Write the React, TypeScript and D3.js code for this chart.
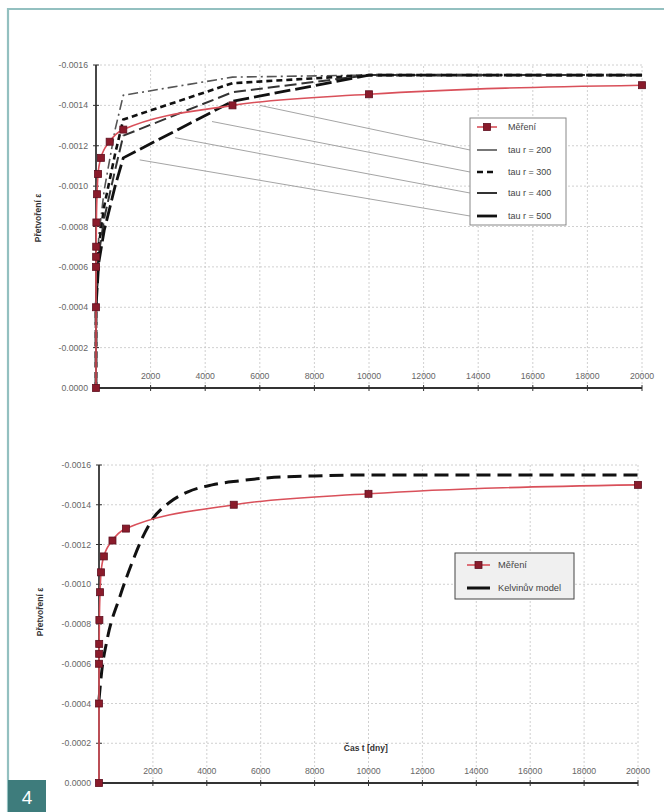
import React from 'react'
import * as d3 from 'd3'

// tick values of both charts
const xTicks = [2000, 4000, 6000, 8000, 10000, 12000, 14000, 16000, 18000, 20000]
const yTicks = [0, -0.0002, -0.0004, -0.0006, -0.0008, -0.001, -0.0012, -0.0014, -0.0016]

// Měření (measured strain), time in days
const measTimes = [0, 1, 3, 5, 7, 14, 40, 75, 180, 500, 1000, 5000, 10000, 20000]
const measStrain = [0, -0.0004, -0.0006, -0.00065, -0.0007, -0.00082, -0.00096, -0.00106, -0.00114, -0.00122, -0.00128, -0.0014, -0.001455, -0.0015]

// model curves for the top chart
const modelTimes = [0, 1, 100, 300, 700, 1000, 5000, 10000, 20000]
const tau200 = [0, -0.0004, -0.00075, -0.00098, -0.00128, -0.00145, -0.00154, -0.00155, -0.00155]
const tau300 = [0, -0.0004, -0.0007, -0.0009, -0.00116, -0.00133, -0.00151, -0.00155, -0.00155]
const tau400 = [0, -0.0004, -0.00066, -0.00084, -0.00108, -0.00125, -0.001465, -0.00155, -0.00155]
const tau500 = [0, -0.0004, -0.00062, -0.00078, -0.001, -0.00114, -0.00142, -0.00155, -0.00155]

// Kelvin model for the bottom chart
const kelvinTimes = [0, 100, 300, 780, 1260, 1630, 2000, 2600, 3300, 4200, 5200, 6500, 8000, 10000, 20000]
const kelvinStrain = [-0.00042, -0.00056, -0.00072, -0.00094, -0.00112, -0.00124, -0.00133, -0.00141, -0.001465, -0.0015, -0.00152, -0.001538, -0.001545, -0.00155, -0.00155]

// leader lines: points on the curves the legend entries point at
const leaderTimes = [6000, 4250, 2900, 1600]
const leaderStrain = [-0.0014, -0.00132, -0.00124, -0.00113]

const topLegend = ['Měření', 'tau r = 200', 'tau r = 300', 'tau r = 400', 'tau r = 500']
const bottomLegend = ['Měření', 'Kelvinův model']

const font = 'Liberation Sans, Arial, sans-serif'
const red = '#d9505a'
const markerFill = '#8a1b2b'

const tauStyles = [
  { stroke: '#555', width: 1.6, dash: '10,4,2,4' },
  { stroke: '#111', width: 2.6, dash: '6,4' },
  { stroke: '#333', width: 2, dash: '12,5' },
  { stroke: '#111', width: 2.8, dash: '16,5' },
]

type Scale = d3.ScaleLinear<number, number>

const fmt = (v: number) => d3.format('.4f')(v).replace('\u2212', '-')

function Axes({ x, y, xTitle }: { x: Scale; y: Scale; xTitle?: string }) {
  const [x0, x1] = x.range()
  const [yb, yt] = y.range()
  return (
    <g fontFamily={font}>
      {/* grid */}
      {yTicks.slice(1).map(t => (
        <line key={'h' + t} x1={x0} x2={x1} y1={y(t)} y2={y(t)} stroke="#c4c4c4" strokeWidth={0.8} strokeDasharray="2,2" />
      ))}
      {xTicks.map(t => (
        <line key={'v' + t} x1={x(t)} x2={x(t)} y1={yb} y2={yt} stroke="#c4c4c4" strokeWidth={0.8} strokeDasharray="2,2" />
      ))}
      {/* axes */}
      <line x1={x0} x2={x0} y1={yb} y2={yt} stroke="#333" strokeWidth={1.8} />
      <line x1={x0} x2={x1} y1={yb} y2={yb} stroke="#333" strokeWidth={1.8} />
      {yTicks.map(t => (
        <g key={'yt' + t}>
          <line x1={x0 - 3} x2={x0 + 3} y1={y(t)} y2={y(t)} stroke="#333" strokeWidth={1} />
          <text x={x0 - 8} y={y(t) + 3} fontSize={8.7} fill="#666" textAnchor="end">{fmt(t)}</text>
        </g>
      ))}
      {xTicks.map(t => (
        <g key={'xt' + t}>
          <line x1={x(t)} x2={x(t)} y1={yb - 3} y2={yb + 3} stroke="#333" strokeWidth={1} />
          <text x={x(t)} y={yb - 9} fontSize={8.7} fill="#666" textAnchor="middle">{t}</text>
        </g>
      ))}
      {xTitle && (
        <text x={x(9900)} y={yb - 32} fontSize={8.5} fontWeight="bold" fill="#333" textAnchor="middle">{xTitle}</text>
      )}
    </g>
  )
}

function Measured({ x, y }: { x: Scale; y: Scale }) {
  const pts = measTimes.map((t, i) => [t, measStrain[i]] as [number, number])
  const line = d3.line<[number, number]>().x(d => x(d[0])).y(d => y(d[1])).curve(d3.curveMonotoneX)
  return (
    <g>
      <path d={line(pts) || ''} fill="none" stroke={red} strokeWidth={1.6} />
      {pts.map((d, i) => (
        <rect key={i} x={x(d[0]) - 3.5} y={y(d[1]) - 3.5} width={7} height={7} fill={markerFill} stroke="#5e1020" strokeWidth={0.8} />
      ))}
    </g>
  )
}

function YTitle({ x, y }: { x: number; y: number }) {
  return (
    <text transform={`translate(${x},${y}) rotate(-90)`} fontFamily={font} fontSize={8.5} fontWeight="bold" fill="#333" textAnchor="middle">
      Přetvoření ε
    </text>
  )
}

export default function App() {
  const xTop = d3.scaleLinear().domain([0, 20000]).range([96, 642])
  const yTop = d3.scaleLinear().domain([0, -0.0016]).range([388, 65])
  const xBot = d3.scaleLinear().domain([0, 20000]).range([99, 638])
  const yBot = d3.scaleLinear().domain([0, -0.0016]).range([783, 465])

  const taus = [tau200, tau300, tau400, tau500]
  const modelLine = d3.line<number>().x((_, i) => xTop(modelTimes[i])).y(d => yTop(d))
  const kelvinLine = d3
    .line<number>()
    .x((_, i) => xBot(kelvinTimes[i]))
    .y(d => yBot(d))
    .curve(d3.curveMonotoneX)

  const legY = [127, 150, 172, 193, 216]
  const legX = 470

  return (
    <svg width={664} height={812} style={{ position: 'absolute', left: 0, top: 0, background: '#fff' }}>
      {/* page frame */}
      <path d="M 8 812 L 8 9 L 664 9" fill="none" stroke="#93c0c0" strokeWidth={2.2} />
      <rect x={8} y={780} width={38} height={32} fill="#3e7c7c" />
      <text x={27} y={804} fontFamily={font} fontSize={19} fill="#fff" textAnchor="middle">4</text>

      {/* top chart */}
      <Axes x={xTop} y={yTop} />
      <YTitle x={41} y={218} />
      {leaderTimes.map((t, i) => (
        <line key={i} x1={xTop(t)} y1={yTop(leaderStrain[i])} x2={legX} y2={legY[i + 1]} stroke="#9a9a9a" strokeWidth={0.9} />
      ))}
      {taus.map((s, i) => (
        <path key={i} d={modelLine(s) || ''} fill="none" stroke={tauStyles[i].stroke} strokeWidth={tauStyles[i].width} strokeDasharray={tauStyles[i].dash} />
      ))}
      <Measured x={xTop} y={yTop} />

      <g fontFamily={font}>
        <rect x={legX} y={118} width={96} height={107} fill="#fff" stroke="#888" strokeWidth={1} />
        <line x1={477} x2={497} y1={legY[0]} y2={legY[0]} stroke={red} strokeWidth={1.6} />
        <rect x={483.5} y={legY[0] - 3.5} width={7} height={7} fill={markerFill} stroke="#5e1020" strokeWidth={0.8} />
        {tauStyles.map((st, i) => (
          <line key={i} x1={477} x2={497} y1={legY[i + 1]} y2={legY[i + 1]} stroke={st.stroke} strokeWidth={st.width} strokeDasharray={i === 1 ? '6,4' : undefined} />
        ))}
        {topLegend.map((l, i) => (
          <text key={l} x={508} y={legY[i] + 3} fontSize={9} fill="#444">{l}</text>
        ))}
      </g>

      {/* bottom chart */}
      <Axes x={xBot} y={yBot} xTitle="Čas t [dny]" />
      <YTitle x={43} y={612} />
      <path d={kelvinLine(kelvinStrain) || ''} fill="none" stroke="#111" strokeWidth={3} strokeDasharray="14,7" />
      <Measured x={xBot} y={yBot} />

      <g fontFamily={font}>
        <rect x={455} y={553} width={119} height={46} fill="#f0f0f0" stroke="#444" strokeWidth={1} />
        <line x1={467} x2={490} y1={565} y2={565} stroke={red} strokeWidth={1.6} />
        <rect x={475} y={561.5} width={7} height={7} fill={markerFill} stroke="#5e1020" strokeWidth={0.8} />
        <line x1={467} x2={490} y1={588} y2={588} stroke="#111" strokeWidth={3} />
        {bottomLegend.map((l, i) => (
          <text key={l} x={498} y={[565, 588][i] + 3} fontSize={9.3} fill="#444">{l}</text>
        ))}
      </g>
    </svg>
  )
}
